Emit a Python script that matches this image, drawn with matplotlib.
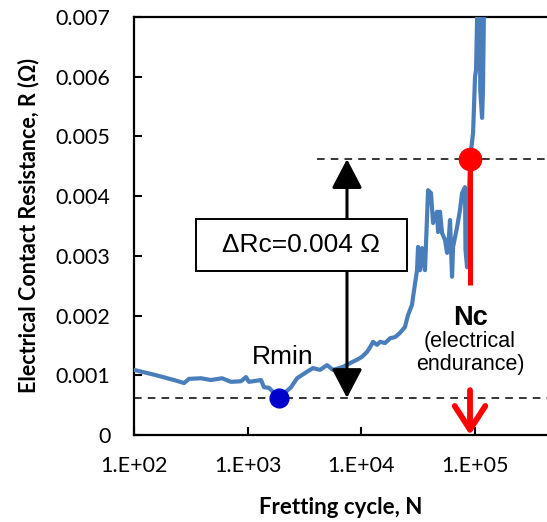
import matplotlib
matplotlib.use("Agg")
import matplotlib.pyplot as plt
from matplotlib.patches import Rectangle

# delta Rc criterion and reference points
r_min = 0.00062
delta_rc = 0.004
r_crit = r_min + delta_rc
n_min = 10 ** 3.275
n_c = 10 ** 4.955
arrow_n = 10 ** 3.873

# fretting test record: log10(cycle) and contact resistance (ohm)
log_cycles = [2.000, 2.176, 2.352, 2.440, 2.484, 2.589, 2.677, 2.774, 2.853, 2.941,
              2.985, 3.011, 3.117, 3.143, 3.187, 3.275, 3.381, 3.434, 3.522, 3.574,
              3.636, 3.697, 3.750, 3.838, 3.917, 3.961, 4.005, 4.049, 4.076, 4.102,
              4.137, 4.164, 4.208, 4.252, 4.296, 4.339, 4.383, 4.410, 4.445, 4.454,
              4.489, 4.498, 4.515, 4.533, 4.559, 4.586, 4.612, 4.630, 4.665, 4.674,
              4.691, 4.709, 4.735, 4.753, 4.762, 4.779, 4.797, 4.806, 4.841, 4.867,
              4.885, 4.911, 4.915, 4.929, 4.955, 4.982, 4.999, 5.008, 5.017, 5.025,
              5.043, 5.045, 5.061, 5.069, 5.078]
resistance = [0.00109, 0.00101, 0.00092, 0.00087, 0.00094, 0.00095, 0.00092, 0.00095, 0.00089, 0.00090,
              0.00097, 0.00089, 0.00092, 0.00080, 0.00079, r_min, 0.00080, 0.00095, 0.00106, 0.00112,
              0.00109, 0.00117, 0.00109, 0.00114, 0.00122, 0.00126, 0.00131, 0.00139, 0.00147, 0.00156,
              0.00151, 0.00156, 0.00154, 0.00162, 0.00164, 0.00171, 0.00181, 0.00201, 0.00218, 0.00231,
              0.00276, 0.00315, 0.00276, 0.00313, 0.00276, 0.00410, 0.00405, 0.00355, 0.00374, 0.00340,
              0.00374, 0.00338, 0.00327, 0.00305, 0.00310, 0.00360, 0.00265, 0.00315, 0.00348, 0.00377,
              0.00405, 0.00415, 0.00310, 0.00281, r_crit, 0.00506, 0.00600, 0.00611, 0.00695, 0.00720,
              0.00695, 0.00578, 0.00531, 0.00578, 0.00720]

cycles = [10 ** v for v in log_cycles]

x_ticks = [1e2, 1e3, 1e4, 1e5]
x_tick_labels = ["1.E+02", "1.E+03", "1.E+04", "1.E+05"]
y_ticks = [0, 0.001, 0.002, 0.003, 0.004, 0.005, 0.006, 0.007]
y_tick_labels = ["0", "0.001", "0.002", "0.003", "0.004", "0.005", "0.006", "0.007"]

plt.rcParams["font.family"] = ["Lato", "DejaVu Sans"]
arial = ["Liberation Sans", "DejaVu Sans"]

fig = plt.figure(figsize=(5.47, 5.22), dpi=100)
ax = fig.add_axes([0.245, 0.1667, 0.755, 0.8007])

ax.set_xscale("log")
ax.set_xlim(1e2, 10 ** 5.632)
ax.set_ylim(0, 0.007)

ax.plot(cycles, resistance, color="#4a7ebb", lw=3.0, solid_joinstyle="round", zorder=3)

# threshold lines
ax.plot([1e2, 10 ** 5.7], [r_min, r_min], color="black", lw=1.1, ls=(0, (5, 4)), zorder=2)
ax.plot([10 ** 3.61, 10 ** 5.7], [r_crit, r_crit], color="black", lw=1.1, ls=(0, (5, 4)), zorder=2)

# delta Rc double arrow with label box
ax.annotate("", xy=(arrow_n, r_crit), xytext=(arrow_n, r_min),
            arrowprops=dict(arrowstyle="<|-|>,head_length=0.9,head_width=0.47",
                            mutation_scale=20, color="black", lw=2.2,
                            shrinkA=0, shrinkB=0), zorder=4)

box = Rectangle((0.150, 0.392), 0.511, 0.124, transform=ax.transAxes,
                facecolor="white", edgecolor="black", lw=1.4, zorder=5)
ax.add_patch(box)
ax.text(0.150 + 0.511 / 2, 0.392 + 0.124 / 2, "ΔRc=0.004 Ω", transform=ax.transAxes,
        ha="center", va="center", fontsize=19, family=arial, zorder=6)

# minimum resistance point
ax.plot([n_min], [r_min], "o", color="#0000cc", ms=13.5, zorder=6)
ax.text(10 ** 3.31, 0.00131, "Rmin", ha="center", va="center", fontsize=19,
        family=arial, zorder=6)

# electrical endurance marker
ax.plot([n_c, n_c], [r_crit, 0.00251], color="#ff0000", lw=3.6, zorder=5, solid_capstyle="butt")
ax.plot([n_c], [r_crit], "o", color="#ff0000", ms=16, zorder=7)
ax.annotate("", xy=(n_c, 0), xytext=(n_c, 0.00075),
            arrowprops=dict(arrowstyle="->,head_length=0.85,head_width=0.55",
                            mutation_scale=20, color="#ff0000", lw=4.2,
                            shrinkA=0, shrinkB=0), zorder=7, annotation_clip=False)
ax.text(n_c, 0.00196, "Nc", ha="center", va="center", fontsize=19.5, fontweight="bold",
        family=arial, zorder=6)
ax.text(n_c, 0.00137, "(electrical\nendurance)", ha="center", va="center", fontsize=15.5,
        linespacing=1.15, family=arial, zorder=6)

ax.set_xticks(x_ticks)
ax.set_xticklabels(x_tick_labels)
ax.xaxis.set_minor_locator(matplotlib.ticker.NullLocator())
ax.set_yticks(y_ticks)
ax.set_yticklabels(y_tick_labels)

ax.tick_params(axis="both", direction="in", length=6, width=1.5, labelsize=15.5)
ax.tick_params(axis="x", pad=15)
ax.tick_params(axis="y", pad=17)

for side in ["left", "bottom", "top"]:
    ax.spines[side].set_linewidth(1.6)
ax.spines["right"].set_visible(False)

ax.set_xlabel("Fretting cycle, N", fontsize=16, fontweight="bold", labelpad=15)
ax.set_ylabel("Electrical Contact Resistance, R (Ω)", fontsize=15.5, fontweight="bold", labelpad=12)

fig.savefig("out.png", dpi=100)
